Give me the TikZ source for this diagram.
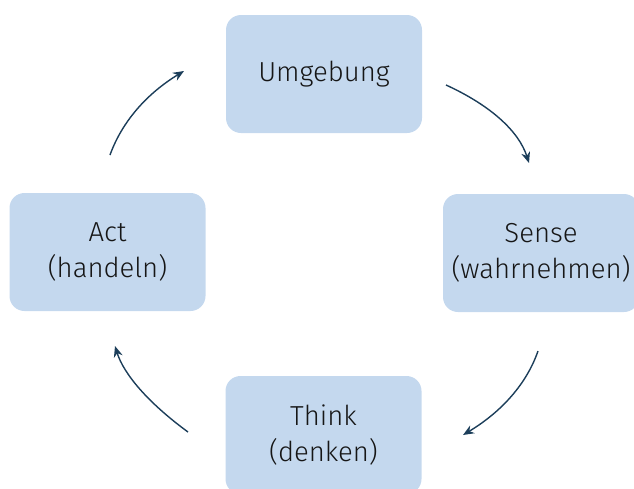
\documentclass[tikz,border=0pt]{standalone}
\usepackage{fontspec}
\setmainfont{Fira Sans}[UprightFont=* Light]
\usetikzlibrary{arrows.meta}
\definecolor{boxfill}{RGB}{196,216,238}
\definecolor{arrowcol}{RGB}{28,62,90}
\definecolor{txt}{RGB}{22,22,22}
\tikzset{
  stage/.style={fill=boxfill, draw=none, rounded corners=15pt, minimum width=196pt, minimum height=118pt, align=center, text=txt, font=\fontsize{27.5}{36}\selectfont, inner sep=0pt},
  cyclearrow/.style={draw=arrowcol, line width=1.4pt, -{Stealth[length=11pt,width=9pt]}}
}
\begin{document}
\begin{tikzpicture}[x=1pt,y=-1pt]
\useasboundingbox (0,0) rectangle (634,488);
\clip (0,0) rectangle (634,488);
\node[stage] (umg) at (324,74) {Umgebung};
\node[stage] (sense) at (541,253) {Sense\\(wahrnehmen)};
\node[stage] (act) at (107.5,252) {Act\\(handeln)};
\node[stage] (think) at (323.5,435) {Think\\(denken)};
\coordinate (a1s) at (446,85);
\coordinate (a1e) at (529,163);
\coordinate (a2s) at (538,351);
\coordinate (a2e) at (463,435);
\coordinate (a3s) at (188,432);
\coordinate (a3e) at (115,346);
\coordinate (a4s) at (110,155);
\coordinate (a4e) at (184,71);
\draw[cyclearrow] (a1s) .. controls (491.3,105.7) and (519,131.7) .. (a1e);
\draw[cyclearrow] (a2s) .. controls (526.7,383.7) and (501.7,411.7) .. (a2e);
\draw[cyclearrow] (a3s) .. controls (148,402.7) and (123.7,374) .. (a3e);
\draw[cyclearrow] (a4s) .. controls (122,121.7) and (146.7,93.7) .. (a4e);
\end{tikzpicture}
\end{document}
